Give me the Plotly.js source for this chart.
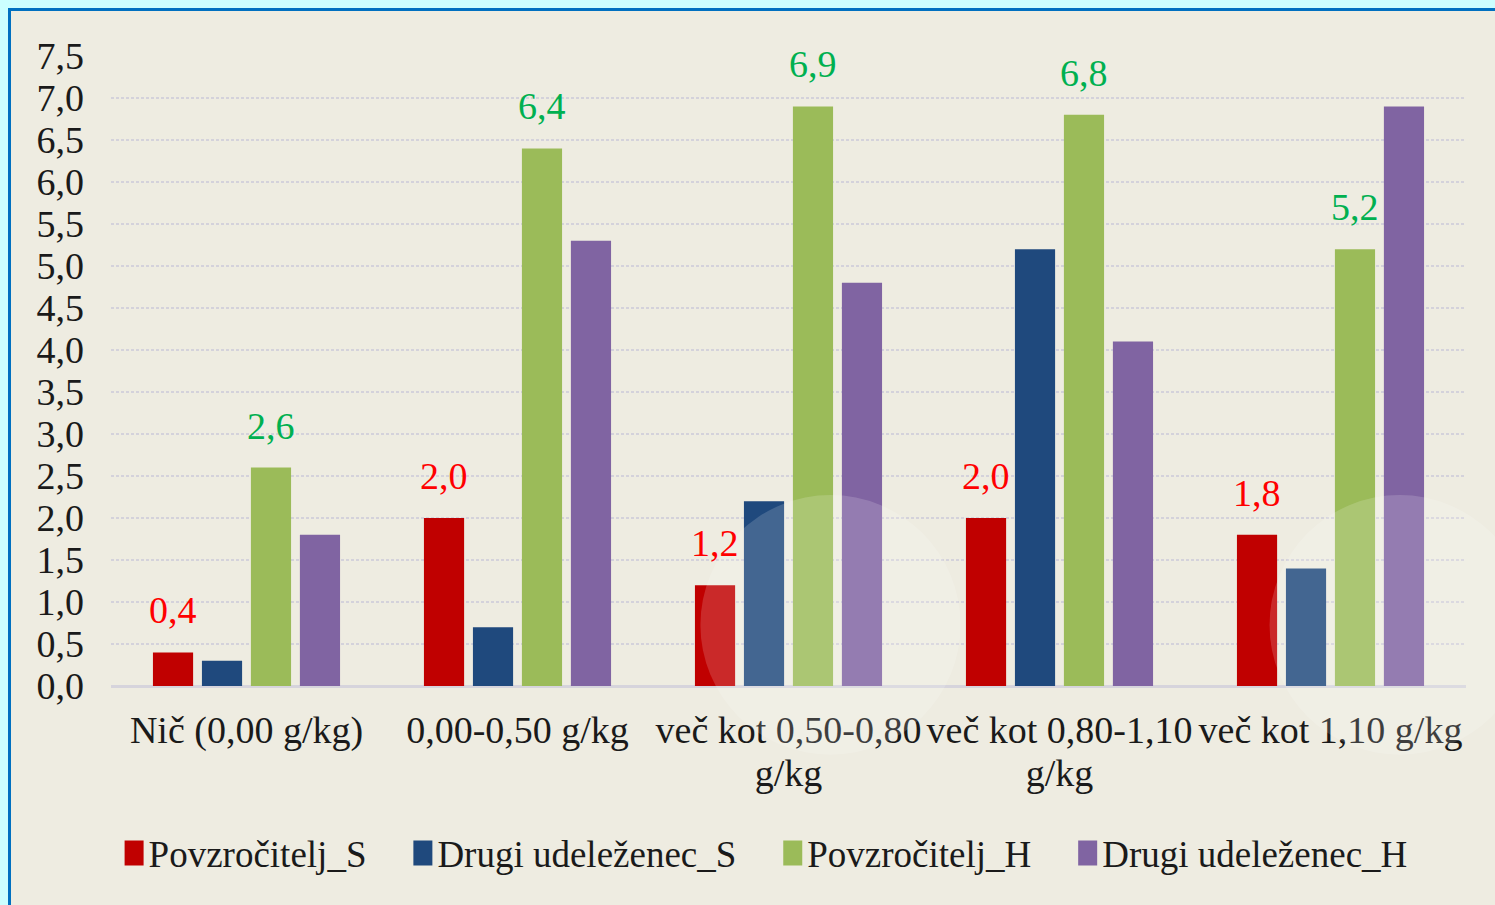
<!DOCTYPE html>
<html>
<head>
<meta charset="utf-8">
<script src="https://cdn.plot.ly/plotly-3.0.1.min.js"></script>
<style>
  html, body { margin: 0; padding: 0; background: #ccffff; overflow: hidden; }
  #frame { position: absolute; left: 8px; top: 8px; width: 1487px; height: 897px;
           box-sizing: border-box; border-top: 3px solid #0070c0; border-left: 3px solid #0070c0;
           background: #eeece1; }
  #chart { width: 1484px; height: 894px; }
</style>
</head>
<body>
<div id="frame"><div id="chart"></div></div>
<script>
// ---- data ----
const categories = [
  "Nič (0,00 g/kg)",
  "0,00-0,50 g/kg",
  "več kot 0,50-0,80<br>g/kg",
  "več kot 0,80-1,10<br>g/kg",
  "več kot 1,10 g/kg"
];
const seriesNames = ["Povzročitelj_S", "Drugi udeleženec_S", "Povzročitelj_H", "Drugi udeleženec_H"];
const povzrocitelj_S = [0.4, 2.0, 1.2, 2.0, 1.8];
const drugi_S        = [0.3, 0.7, 2.2, 5.2, 1.4];
const povzrocitelj_H = [2.6, 6.4, 6.9, 6.8, 5.2];
const drugi_H        = [1.8, 5.3, 4.8, 4.1, 6.9];
const yTicks = [0, 0.5, 1, 1.5, 2, 2.5, 3, 3.5, 4, 4.5, 5, 5.5, 6, 6.5, 7, 7.5];

// ---- styles ----
const colors = ["#c00000", "#1f497d", "#9bbb59", "#8064a2"];
const labelColors = {0: "#ff0000", 2: "#00b050"};
const FONT = "Liberation Serif, Times New Roman, serif";
const BARGAP = 0.277, GROUPGAP = 0.18;
const LEGEND_PAD = "\u00a0\u00a0\u2009";

const seriesValues = [povzrocitelj_S, drugi_S, povzrocitelj_H, drugi_H];
const traces = seriesValues.map((vals, i) => ({
  type: "bar",
  name: seriesNames[i] + LEGEND_PAD,
  x: categories,
  y: vals,
  marker: { color: colors[i] },
  hoverinfo: "skip"
}));

// data labels for red and green series
const slot = (1 - BARGAP) / 4;
const annotations = [];
[0, 2].forEach(si => {
  const offset = (si - 1.5) * slot;
  seriesValues[si].forEach((v, ci) => {
    annotations.push({
      x: ci + offset, y: v, xref: "x", yref: "y",
      text: v.toFixed(1).replace(".", ","),
      showarrow: false, yanchor: "middle", yshift: 42,
      font: { family: FONT, size: 38, color: labelColors[si] }
    });
  });
});

// faint watermark discs
const shapes = [0.531, 0.951].map(cx => ({
  type: "circle", xref: "paper", yref: "paper", layer: "above",
  x0: cx - 0.096, x1: cx + 0.096, y0: 0.097 - 0.206, y1: 0.097 + 0.206,
  fillcolor: "rgba(255,255,255,0.16)", line: { width: 0 }
}));

const layout = {
  width: 1484, height: 894,
  margin: { l: 100, r: 29, t: 45, b: 219 },
  paper_bgcolor: "#eeece1",
  plot_bgcolor: "#eeece1",
  separators: ",.",
  barmode: "group",
  bargap: BARGAP,
  bargroupgap: GROUPGAP,
  font: { family: FONT, size: 38, color: "#1a1a1a" },
  xaxis: {
    type: "category",
    showgrid: false, zeroline: false, showline: false, ticks: "",
    ticklabelstandoff: 18,
    tickfont: { family: FONT, size: 38, color: "#1a1a1a" },
    fixedrange: true
  },
  yaxis: {
    range: [0, 7.5],
    tickvals: yTicks,
    tickformat: ".1f",
    showgrid: true, gridcolor: "#d4d2db", gridwidth: 2.5, griddash: "3px,2px",
    zeroline: true, zerolinecolor: "#d6d4dc", zerolinewidth: 3,
    showline: false, ticks: "",
    ticklabelstandoff: 26,
    tickfont: { family: FONT, size: 38, color: "#1a1a1a" },
    fixedrange: true
  },
  showlegend: true,
  legend: {
    orientation: "h",
    x: 0.489, xanchor: "center",
    y: -0.265, yanchor: "middle",
    bgcolor: "rgba(0,0,0,0)",
    font: { family: FONT, size: 37, color: "#1a1a1a" },
    traceorder: "normal"
  },
  annotations: annotations,
  shapes: shapes
};

Plotly.newPlot("chart", traces, layout, { displayModeBar: false, staticPlot: true }).then(gd => {
  // enlarge legend swatches to match the reference's tall squares
  gd.querySelectorAll(".legend .legendpoints path").forEach(p => {
    p.setAttribute("d", "M15,13H-4V-12H15Z");
  });
  // tighter line spacing for two-line category labels
  gd.querySelectorAll(".xtick text tspan.line").forEach(t => {
    const dy = t.getAttribute("dy");
    if (dy && parseFloat(dy) > 0) t.setAttribute("dy", "1.13em");
  });
});
</script>
</body>
</html>
